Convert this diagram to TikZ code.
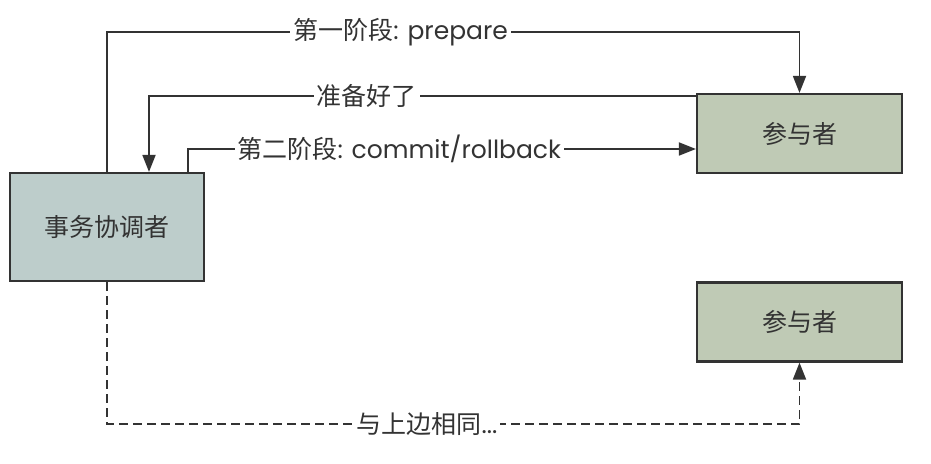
\documentclass[tikz,border=0pt]{standalone}
\usepackage{fontspec}
\setmainfont{Poppins}
\newfontfamily\cjk{Noto Sans CJK SC}
\definecolor{inkgrey}{HTML}{333333}
\definecolor{coordfill}{HTML}{BDCDCB}
\definecolor{partfill}{HTML}{BFCAB5}
\usetikzlibrary{calc, positioning, arrows.meta}

\begin{document}
\begin{tikzpicture}[x=1pt, y=1pt,
  box/.style={draw=inkgrey, line width=2.2pt, inner sep=0pt, text=inkgrey,
              font=\cjk\fontsize{25}{29}\selectfont},
  coordbox/.style={box, fill=coordfill, minimum width=194pt, minimum height=108pt},
  partbox/.style={box, fill=partfill, minimum width=205pt, minimum height=79pt},
  msg/.style={draw=inkgrey, line width=1.8pt,
              -{Triangle[length=17pt, width=13pt]}},
  later/.style={msg, dash pattern=on 9pt off 5pt},
  lbl/.style={fill=white, inner sep=3pt, text=inkgrey,
              font=\fontsize{25}{29}\selectfont},
]
\useasboundingbox (0,0) rectangle (931,463);

\node[coordbox] (coord) at (107,236) {事务协调者};
\node[partbox] (p1) at (799.5,329.5) {参与者};
\node[partbox] (p2) at (799.5,141) {参与者};

\draw[msg] (coord.north) -- ++(0,140)
  -| node[lbl, pos=0.212] {{\cjk 第一阶段}: prepare} (p1.north);
\draw[msg] ([yshift=-3pt]p1.north west)
  -| node[lbl, pos=0.301] {\cjk 准备好了} ([xshift=42pt]coord.north);
\draw[msg] ([xshift=81pt]coord.north)
  |- node[lbl, pos=0.708] {{\cjk 第二阶段}: commit/rollback} ([yshift=-15.5pt]p1.west);
\draw[later] (coord.south) -- ++(0,-142)
  -| node[lbl, pos=0.231] {{\cjk 与上边相同}...} (p2.south);
\end{tikzpicture}
\end{document}
